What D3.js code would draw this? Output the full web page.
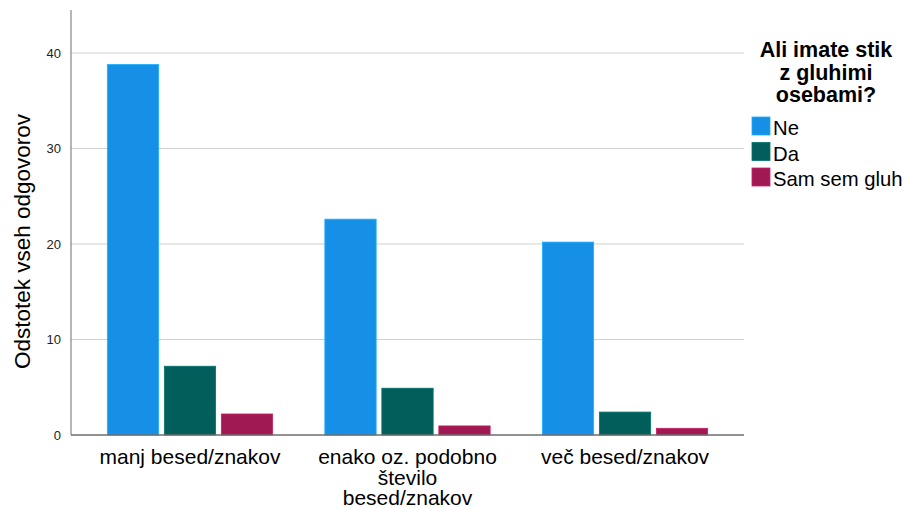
<!DOCTYPE html>
<html>
<head>
<meta charset="utf-8">
<script src="https://cdn.jsdelivr.net/npm/d3@7"></script>
<style>
  body { margin: 0; background: #fff; }
  text { font-family: "Liberation Sans", Arial, sans-serif; fill: #000; }
</style>
</head>
<body>
<div id="chart"></div>
<script>
// categories and series
let categories = ["manj besed/znakov", "enako oz. podobno število besed/znakov", "več besed/znakov"];
let categoryLines = [["manj besed/znakov"], ["enako oz. podobno", "število", "besed/znakov"], ["več besed/znakov"]];
let seriesNames = ["Ne", "Da", "Sam sem gluh"];
let seriesColors = ["#1590e6", "#025e5a", "#a11952"];
let valuesNe = [38.8, 22.6, 20.2];
let valuesDa = [7.2, 4.9, 2.4];
let valuesGluh = [2.2, 0.95, 0.7];
let yTicks = [0, 10, 20, 30, 40];

let width = 907, height = 508;
let plotLeft = 71, plotRight = 744, plotTop = 10, plotBottom = 435;

let svg = d3.select("#chart").append("svg")
  .attr("width", width)
  .attr("height", height);

let y = d3.scaleLinear().domain([0, 44.5]).range([plotBottom, plotTop]);
let x = d3.scalePoint().domain(categories).range([plotLeft, plotRight]).padding(0.547);
let xInner = d3.scaleBand().domain(seriesNames).range([-85.5, 85.5])
  .paddingInner(0.1).paddingOuter(0.05);

// gridlines
svg.append("g")
  .selectAll("line.grid")
  .data(yTicks.filter(d => d > 0))
  .enter().append("line")
  .attr("x1", plotLeft).attr("x2", plotRight)
  .attr("y1", d => y(d)).attr("y2", d => y(d))
  .style("stroke", "#d0d0d0")
  .style("stroke-width", "1px");

// bars
let seriesValues = [valuesNe, valuesDa, valuesGluh];
let rows = [];
categories.forEach((c, i) => {
  seriesNames.forEach((s, j) => {
    rows.push({cat: c, series: s, value: seriesValues[j][i], color: seriesColors[j]});
  });
});

svg.append("g")
  .selectAll("rect.bar")
  .data(rows)
  .enter().append("rect")
  .classed("bar", true)
  .attr("x", d => x(d.cat) + xInner(d.series))
  .attr("width", xInner.bandwidth())
  .attr("y", d => y(d.value))
  .attr("height", d => y(0) - y(d.value))
  .attr("fill", d => d.color)
  .style("stroke", d => d3.color(d.color).brighter(0.6))
  .style("stroke-width", "0.8px");

// y axis
let yAxis = svg.append("g")
  .attr("transform", `translate(${plotLeft},0)`)
  .call(d3.axisLeft(y).tickValues(yTicks).tickSize(0).tickPadding(10).tickFormat(d3.format("d")));
yAxis.select(".domain").attr("d", `M0,${plotTop}V${plotBottom}`).style("stroke", "#6e6e6e");
yAxis.selectAll(".tick text")
  .style("font-family", "Liberation Sans, Arial, sans-serif")
  .style("font-size", "13px")
  .style("fill", "#222");

// x baseline
svg.append("line")
  .attr("x1", plotLeft).attr("x2", plotRight)
  .attr("y1", plotBottom).attr("y2", plotBottom)
  .style("stroke", "#6e6e6e")
  .style("stroke-width", "1.5px");

// category labels
let catLabel = svg.append("g")
  .selectAll("text.cat")
  .data(categories)
  .enter().append("text")
  .classed("cat", true)
  .attr("text-anchor", "middle")
  .style("font-size", "21px")
  .attr("transform", d => `translate(${x(d)},464)`);
catLabel.each(function(d, i) {
  let t = d3.select(this);
  categoryLines[i].forEach((line, k) => {
    t.append("tspan").attr("x", 0).attr("dy", k === 0 ? 0 : 20.5).text(line);
  });
});

// y title
svg.append("text")
  .attr("text-anchor", "middle")
  .attr("transform", `translate(30,241.5) rotate(-90)`)
  .style("font-size", "22.5px")
  .text("Odstotek vseh odgovorov");

// legend
let legendTitle = ["Ali imate stik", "z gluhimi", "osebami?"];
svg.append("g")
  .selectAll("text.ltitle")
  .data(legendTitle)
  .enter().append("text")
  .attr("text-anchor", "middle")
  .attr("x", 826)
  .attr("y", (d, i) => 57 + i * 22.5)
  .style("font-size", "21.5px")
  .style("font-weight", "bold")
  .text(d => d);

let legend = svg.append("g")
  .selectAll("g.legend")
  .data(seriesNames)
  .enter().append("g")
  .attr("transform", (d, i) => `translate(752,${117 + i * 25.5})`);
legend.append("rect")
  .attr("width", 18).attr("height", 18)
  .attr("fill", (d, i) => seriesColors[i])
  .style("stroke", (d, i) => d3.color(seriesColors[i]).brighter(0.6))
  .style("stroke-width", "0.8px");
legend.append("text")
  .attr("x", 21).attr("y", 18)
  .style("font-size", "20.3px")
  .text(d => d);
</script>
</body>
</html>
